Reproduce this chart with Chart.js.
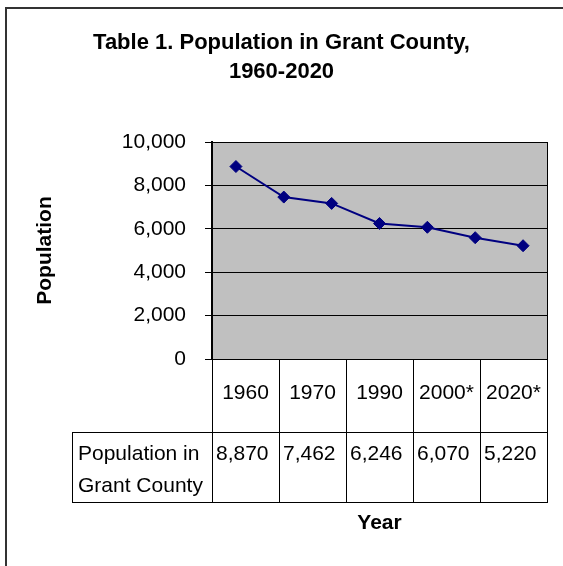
<!DOCTYPE html>
<html>
<head>
<meta charset="utf-8">
<script src="https://cdn.jsdelivr.net/npm/chart.js"></script>
<style>
  body { margin: 0; background: #fff; }
  #wrap { width: 563px; height: 566px; position: relative; }
</style>
</head>
<body>
<div id="wrap"><canvas id="graphCanvas"></canvas></div>
<script>
// values
var pointValues = [8870, 7462, 7170, 6246, 6070, 5590, 5220];
var tableYears = ['1960', '1970', '1990', '2000*', '2020*'];
var tableValues = [8870, 7462, 6246, 6070, 5220];
var tableRowLabel = ['Population in', 'Grant County'];
var yTicks = [0, 2000, 4000, 6000, 8000, 10000];

var FONT = "Arial, 'Liberation Sans', sans-serif";

function fmt(v) {
  return v.toLocaleString('en-US');
}

// white page + outer frame + grey plot area
var backPlugin = {
  id: 'back',
  beforeDraw: function (chart) {
    var ctx = chart.ctx;
    var a = chart.chartArea;
    ctx.save();
    ctx.fillStyle = '#fff';
    ctx.fillRect(0, 0, chart.width, chart.height);
    ctx.strokeStyle = '#333';
    ctx.lineWidth = 2;
    ctx.strokeRect(6, 8, chart.width + 20, chart.height + 20);
    ctx.fillStyle = '#c0c0c0';
    ctx.fillRect(a.left, a.top, a.right - a.left, a.bottom - a.top);
    ctx.restore();
  },
  beforeDatasetsDraw: function (chart) {
    var ctx = chart.ctx;
    var a = chart.chartArea;
    ctx.save();
    ctx.strokeStyle = '#000';
    ctx.lineWidth = 1;
    ctx.strokeRect(Math.round(a.left) + 0.5, Math.round(a.top) + 0.5, Math.round(a.right - a.left), Math.round(a.bottom - a.top));
    ctx.restore();
  }
};

// data table under the plot, columns taken from the 'xt' scale
var tablePlugin = {
  id: 'dataTable',
  afterDraw: function (chart) {
    var ctx = chart.ctx;
    var xt = chart.scales.xt;
    var a = chart.chartArea;
    var half = (xt.getPixelForValue(1) - xt.getPixelForValue(0)) / 2;
    var top1 = Math.round(a.bottom);
    var bot1 = top1 + 73;
    var bot2 = bot1 + 70;
    var headLeft = 72;
    var edges = [];
    for (var i = 0; i < tableYears.length; i++) {
      edges.push(Math.round(xt.getPixelForValue(i) - half));
    }
    edges.push(Math.round(a.right));

    ctx.save();
    ctx.strokeStyle = '#000';
    ctx.lineWidth = 1;
    ctx.beginPath();
    for (var e = 0; e < edges.length; e++) {
      ctx.moveTo(edges[e] + 0.5, top1);
      ctx.lineTo(edges[e] + 0.5, bot2 + 1);
    }
    ctx.moveTo(headLeft + 0.5, bot1);
    ctx.lineTo(headLeft + 0.5, bot2 + 1);
    ctx.moveTo(headLeft, bot1 + 0.5);
    ctx.lineTo(edges[edges.length - 1] + 1, bot1 + 0.5);
    ctx.moveTo(headLeft, bot2 + 0.5);
    ctx.lineTo(edges[edges.length - 1] + 1, bot2 + 0.5);
    ctx.stroke();

    ctx.fillStyle = '#000';
    ctx.font = '21px ' + FONT;
    ctx.textBaseline = 'middle';
    ctx.textAlign = 'center';
    for (var j = 0; j < tableYears.length; j++) {
      ctx.fillText(tableYears[j], xt.getPixelForValue(j), top1 + 34);
    }
    ctx.textAlign = 'left';
    for (var k = 0; k < tableValues.length; k++) {
      ctx.fillText(fmt(tableValues[k]), edges[k] + 4, bot1 + 22);
    }
    ctx.fillText(tableRowLabel[0], headLeft + 6, bot1 + 22);
    ctx.fillText(tableRowLabel[1], headLeft + 6, bot1 + 54);
    ctx.restore();
  }
};

var chartdata = {
  datasets: [
    {
      label: 'Population in Grant County',
      data: pointValues.map(function (v, i) { return { x: i, y: v }; }),
      borderColor: '#000080',
      backgroundColor: '#000080',
      borderWidth: 2,
      pointStyle: 'rectRot',
      pointRadius: 6,
      pointBorderWidth: 1,
      pointBackgroundColor: '#000080',
      pointBorderColor: '#000080',
      tension: 0,
      xAxisID: 'x',
      yAxisID: 'y'
    }
  ]
};

var graphTarget = document.getElementById('graphCanvas');

var lineGraph = new Chart(graphTarget, {
  type: 'line',
  data: chartdata,
  plugins: [backPlugin, tablePlugin],
  options: {
    responsive: true,
    maintainAspectRatio: false,
    animation: false,
    layout: { padding: { left: 16, right: 16, top: 0, bottom: 0 } },
    plugins: {
      legend: { display: false },
      tooltip: { enabled: false },
      title: {
        display: true,
        text: ['Table 1. Population in Grant County,', '1960-2020'],
        color: '#000',
        font: { family: FONT, size: 22, weight: 'bold', lineHeight: '29px' },
        padding: { top: 28.5, bottom: 55.5 }
      }
    },
    scales: {
      x: {
        type: 'linear',
        position: 'bottom',
        min: -0.5,
        max: pointValues.length - 0.5,
        ticks: { display: false },
        grid: { display: false, drawTicks: false },
        border: { display: false },
        title: {
          display: true,
          text: 'Year',
          color: '#000',
          font: { family: FONT, size: 21, weight: 'bold', lineHeight: '24px' },
          padding: { top: 152, bottom: 31 }
        }
      },
      xt: {
        type: 'category',
        position: 'bottom',
        labels: tableYears,
        offset: true,
        display: false
      },
      y: {
        position: 'left',
        min: 0,
        max: 10000,
        afterFit: function (axis) { axis.width = 196; },
        afterBuildTicks: function (axis) {
          axis.ticks = yTicks.map(function (v) { return { value: v }; });
        },
        ticks: {
          color: '#000',
          padding: 19,
          font: { family: FONT, size: 21 },
          callback: function (v) { return fmt(v); }
        },
        grid: { color: '#000', lineWidth: 1, tickLength: 7 },
        border: { color: '#000', width: 2 },
        title: {
          display: true,
          text: 'Population',
          color: '#000',
          font: { family: FONT, size: 21, weight: 'bold', lineHeight: '24px' },
          padding: { top: 17, bottom: 0 }
        }
      }
    }
  }
});
</script>
</body>
</html>
